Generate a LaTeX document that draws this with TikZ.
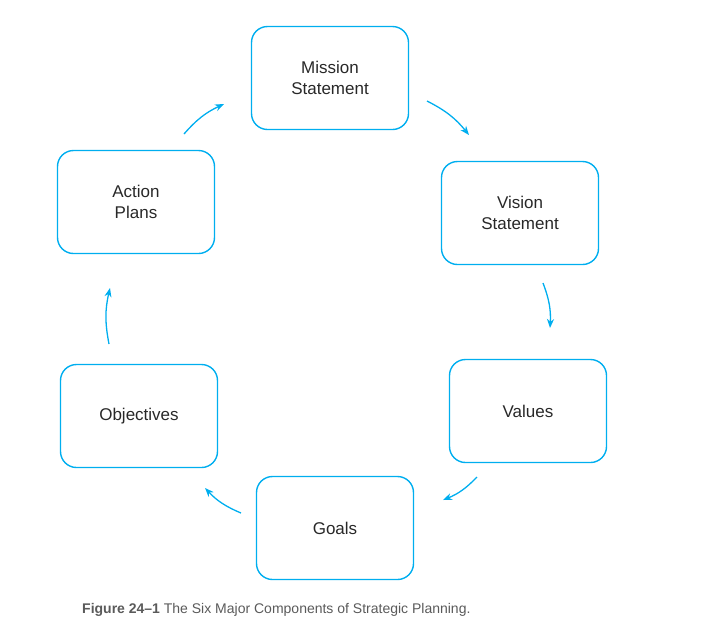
\documentclass[tikz,border=0pt]{standalone}
\usepackage{fontspec}
\setmainfont{Liberation Sans}
\usetikzlibrary{arrows.meta}
\definecolor{cyanb}{RGB}{0,174,239}
\definecolor{txt}{RGB}{40,40,40}
\definecolor{capt}{RGB}{90,90,90}
\begin{document}
\begin{tikzpicture}[x=1pt,y=-1pt,
  box/.style={draw=cyanb,line width=1.4pt,rounded corners=16pt,minimum width=157pt,minimum height=103pt,align=center,font=\fontsize{17}{20.5}\selectfont,text=txt,inner sep=0pt},
  arr/.style={draw=cyanb,line width=1.3pt,-{Stealth[length=9pt,width=7pt]},bend left=12}]
\useasboundingbox (0,0) rectangle (715,638);
\node[box] (m) at (330,78) {Mission\\Statement};
\node[box] (v) at (520,213) {Vision\\Statement};
\node[box] (va) at (528,411) {Values};
\node[box] (g) at (335,528) {Goals};
\node[box] (o) at (139,416) {Objectives};
\node[box] (a) at (136,202) {Action\\Plans};
\coordinate (m1) at (427,101); \coordinate (m2) at (469,135);
\coordinate (v1) at (543,283); \coordinate (v2) at (550,328);
\coordinate (va1) at (477,477); \coordinate (va2) at (443,500);
\coordinate (g1) at (241,513); \coordinate (g2) at (205,488);
\coordinate (o1) at (109,344); \coordinate (o2) at (110,288);
\coordinate (a1) at (184,134); \coordinate (a2) at (224,104);
\draw[arr] (m1) to (m2);
\draw[arr] (v1) to (v2);
\draw[arr] (va1) to (va2);
\draw[arr] (g1) to (g2);
\draw[arr] (o1) to (o2);
\draw[arr] (a1) to (a2);
\node[anchor=west,inner sep=0pt,text=capt,font=\fontsize{14}{16}\selectfont] (cap) at (82,610) {\textbf{Figure 24–1} The Six Major Components of Strategic Planning.};
\end{tikzpicture}
\end{document}
